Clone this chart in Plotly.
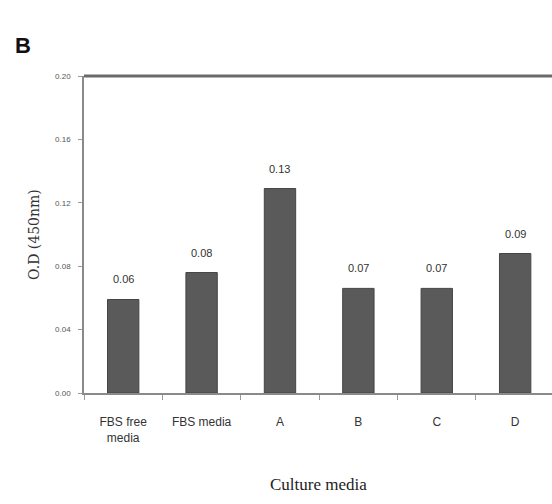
import plotly.graph_objects as go

# Optical density at 450 nm for each culture medium
media = ["FBS free<br>media", "FBS media", "A", "B", "C", "D"]
od_450 = [0.059, 0.076, 0.129, 0.066, 0.066, 0.088]
y_ticks = [0.00, 0.04, 0.08, 0.12, 0.16, 0.20]

fig = go.Figure()
fig.add_trace(go.Bar(
    x=media, y=od_450, width=0.4,
    marker=dict(color="#5a5a5a", line=dict(color="#444444", width=1)),
    hoverinfo="skip",
))

# value labels above bars
for m, v in zip(media, od_450):
    fig.add_annotation(x=m, y=v, text=f"{v:.2f}", showarrow=False,
                       yshift=20, font=dict(family="Liberation Sans, Arial", size=11, color="#333333"))

# thick frame line along the top of the plot area
fig.add_shape(type="line", xref="paper", yref="paper", x0=0, x1=1, y0=1, y1=1,
              line=dict(color="#6a6a6a", width=3))

# panel letter
fig.add_annotation(xref="paper", yref="paper", x=-0.13, y=1.095, xanchor="center", yanchor="middle",
                   text="<b>B</b>", showarrow=False,
                   font=dict(family="Liberation Sans, Arial", size=22, color="#111111"))

# axis titles
fig.add_annotation(xref="paper", yref="paper", x=0.5, y=-0.29, xanchor="center", yanchor="middle",
                   text="Culture media", showarrow=False,
                   font=dict(family="Liberation Serif, Times New Roman", size=17, color="#222222"))
fig.add_annotation(xref="paper", yref="paper", x=-0.108, y=0.5, xanchor="center", yanchor="middle",
                   text="O.D (450nm)", textangle=-90, showarrow=False,
                   font=dict(family="DejaVu Serif", size=14, color="#333333"))

fig.update_layout(
    width=552, height=504,
    margin=dict(l=84, r=0, t=76, b=111),
    paper_bgcolor="white", plot_bgcolor="white",
    showlegend=False,
    xaxis=dict(
        type="category", range=[-0.5, 5.47],
        showline=True, linecolor="#8a8a8a", linewidth=1.5,
        ticks="outside", tickson="boundaries", ticklen=5, tickcolor="#9a9a9a",
        tickfont=dict(family="Liberation Sans, Arial", size=12, color="#333333"),
        ticklabelstandoff=17,
        showgrid=False, zeroline=False,
    ),
    yaxis=dict(
        range=[0, 0.2], tickvals=y_ticks, tickformat=".2f",
        showline=True, linecolor="#8a8a8a", linewidth=1.5,
        ticks="outside", ticklen=4, tickcolor="#9a9a9a",
        tickfont=dict(family="Liberation Sans, Arial", size=8, color="#555555"),
        ticklabelstandoff=6,
        showgrid=False, zeroline=False,
    ),
)

fig.write_html("out.html")
